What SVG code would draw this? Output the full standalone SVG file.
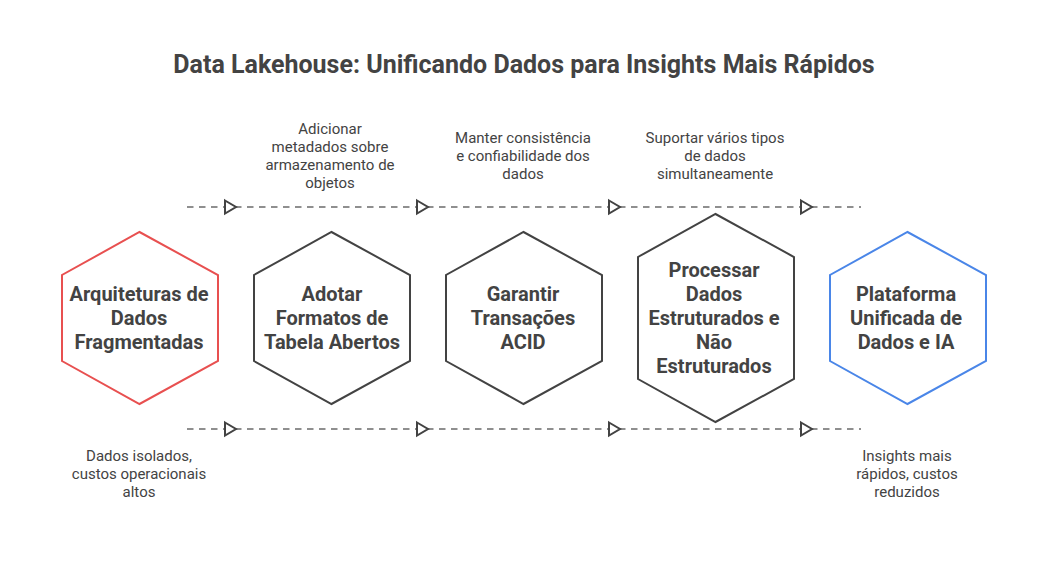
<svg xmlns="http://www.w3.org/2000/svg" width="1048" height="564" viewBox="0 0 1048 564">
<style>
text{font-family:Roboto,"Liberation Sans",sans-serif;text-anchor:middle;fill:#434343}
.t{font-size:25px;font-weight:700}
.n{font-size:20px;font-weight:700}
.c{font-size:15px}
.h{fill:none;stroke:#434343;stroke-width:2}
.d{fill:none;stroke:#8f8f8f;stroke-width:2;stroke-dasharray:6.500 5.500}
.a{fill:#fff;stroke:#434343;stroke-width:2}
</style>
<defs><path id="tri" class="a" d="M-6-6.500L5 0L-6 6.500Z"/></defs>
<rect width="1048" height="564" fill="#fff"/>
<text class="t" x="524" y="73">Data Lakehouse: Unificando Dados para Insights Mais Rápidos</text>
<g id="connectors">
<path class="d" d="M187 207H861"/>
<path class="d" d="M187 429H861"/>
<use href="#tri" x="231" y="207"/><use href="#tri" x="423" y="207"/><use href="#tri" x="615" y="207"/><use href="#tri" x="807" y="207"/>
<use href="#tri" x="231" y="429"/><use href="#tri" x="423" y="429"/><use href="#tri" x="615" y="429"/><use href="#tri" x="807" y="429"/>
</g>
<g id="n1"><path class="h" style="stroke:#e85050" d="M139.500 232L218 275V361L139.500 404L62 361V275Z"/>
<text class="n" x="139" y="301">Arquiteturas de</text><text class="n" x="139" y="325">Dados</text><text class="n" x="139" y="349">Fragmentadas</text></g>
<g id="n2"><path class="h" d="M331.500 232L410 275V361L331.500 404L254 361V275Z"/>
<text class="n" x="332" y="301">Adotar</text><text class="n" x="332" y="325">Formatos de</text><text class="n" x="332" y="349">Tabela Abertos</text></g>
<g id="n3"><path class="h" d="M523.500 232L602 275V361L523.500 404L446 361V275Z"/>
<text class="n" x="523" y="301">Garantir</text><text class="n" x="523" y="325">Transações</text><text class="n" x="523" y="349">ACID</text></g>
<g id="n4"><path class="h" d="M715.500 214L794 257V379L715.500 422L638 379V257Z"/>
<text class="n" x="714" y="277">Processar</text><text class="n" x="714" y="301">Dados</text><text class="n" x="714" y="325">Estruturados e</text><text class="n" x="714" y="349">Não</text><text class="n" x="714" y="373">Estruturados</text></g>
<g id="n5"><path class="h" style="stroke:#4a86e8" d="M907.500 232L986 275V361L907.500 404L830 361V275Z"/>
<text class="n" x="906" y="301">Plataforma</text><text class="n" x="906" y="325">Unificada de</text><text class="n" x="906" y="349">Dados e IA</text></g>
<g id="captions">
<text class="c" x="330" y="134">Adicionar</text><text class="c" x="330" y="152">metadados sobre</text><text class="c" x="330" y="170">armazenamento de</text><text class="c" x="330" y="188">objetos</text>
<text class="c" x="523" y="143">Manter consistência</text><text class="c" x="523" y="161">e confiabilidade dos</text><text class="c" x="523" y="179">dados</text>
<text class="c" x="715" y="143">Suportar vários tipos</text><text class="c" x="715" y="161">de dados</text><text class="c" x="715" y="179">simultaneamente</text>
<text class="c" x="139" y="461">Dados isolados,</text><text class="c" x="139" y="479">custos operacionais</text><text class="c" x="139" y="497">altos</text>
<text class="c" x="907" y="461">Insights mais</text><text class="c" x="907" y="479">rápidos, custos</text><text class="c" x="907" y="497">reduzidos</text>
</g>
</svg>
